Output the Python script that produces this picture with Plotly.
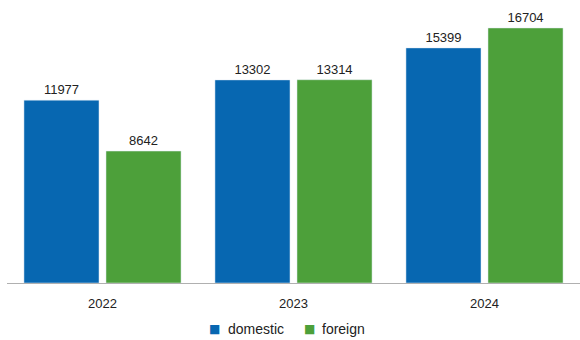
import plotly.graph_objects as go

years = ["2022", "2023", "2024"]
domestic = [11977, 13302, 15399]
foreign = [8642, 13314, 16704]
series_names = ["domestic", "foreign"]
colors = ["#0767b1", "#4da03a"]

fig = go.Figure()
for name, vals, col in zip(series_names, [domestic, foreign], colors):
    fig.add_trace(go.Bar(name=name, x=years, y=vals, marker_color=col,
                         text=vals, textposition="outside", cliponaxis=False,
                         textfont=dict(size=13, color="#222")))

# custom legend (square + label)
legend_items = [(series_names[0], colors[0], 0.3613, 0.3822),
                (series_names[1], colors[1], 0.5279, 0.5462)]
for name, col, xs, xt in legend_items:
    fig.add_annotation(text="■", xref="paper", yref="paper", x=xs, y=-0.168,
                       xanchor="center", yanchor="middle", showarrow=False,
                       font=dict(size=12, color=col, family="DejaVu Sans"))
    fig.add_annotation(text=name, xref="paper", yref="paper", x=xt, y=-0.168,
                       xanchor="left", yanchor="middle", showarrow=False,
                       font=dict(size=14, color="#222"))

fig.update_layout(
    width=580, height=340,
    margin=dict(l=7, r=0, t=10, b=57),
    barmode="group", bargap=0.141, bargroupgap=0.085,
    plot_bgcolor="white", paper_bgcolor="white",
    font=dict(family="Liberation Sans, Arial, sans-serif", size=13, color="#222"),
    showlegend=False,
    xaxis=dict(showline=True, linecolor="#b0b0b0", linewidth=1, ticks="outside",
               ticklen=8, tickcolor="rgba(0,0,0,0)", showgrid=False,
               tickfont=dict(size=13)),
    yaxis=dict(visible=False, range=[0, 17880], showgrid=False),
)
fig.write_html("out.html", config={"displayModeBar": False},
               post_script="document.body.style.margin='0';")
